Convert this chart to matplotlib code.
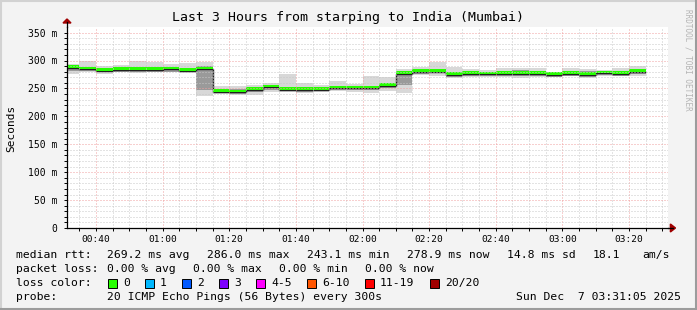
import matplotlib
matplotlib.use("Agg")
import matplotlib.pyplot as plt
from matplotlib.lines import Line2D
from matplotlib.patches import Polygon, Rectangle
import numpy as np

plt.rcParams['font.family'] = ['DejaVu Sans Mono']

# one value per 5 minute step, first step starts at 00:30
step_start = 30
step_minutes = 5
median = np.array([287, 284, 281, 283, 283, 283, 284, 282, 284, 244,
                   243, 247, 252, 248, 247, 248, 250, 250, 250, 254,
                   276, 279, 280, 274, 276, 275, 276, 276, 276, 274,
                   276, 274, 277, 276, 279])
smoke_hi = np.array([294, 300, 291, 292, 300, 297, 293, 295, 298, 254,
                     254, 256, 260, 276, 260, 257, 263, 258, 272, 270,
                     284, 289, 297, 288, 285, 283, 287, 286, 286, 280,
                     287, 284, 283, 286, 290])
smoke_lo = np.array([275, 279, 276, 279, 278, 279, 279, 277, 236, 240,
                     238, 239, 243, 243, 241, 243, 245, 244, 242, 246,
                     242, 274, 272, 268, 270, 270, 270, 269, 270, 270,
                     272, 269, 272, 272, 273])
core_lo = np.array([281, 281, 279, 280, 280, 280, 280, 279, 248, 242,
                    240, 243, 248, 245, 244, 245, 247, 247, 247, 250,
                    256, 276, 277, 271, 273, 272, 273, 272, 273, 271,
                    273, 271, 274, 273, 275])
core_hi = np.array([290, 289, 286, 289, 289, 288, 289, 287, 291, 248,
                    249, 252, 255, 252, 251, 251, 253, 253, 254, 258,
                    281, 282, 283, 279, 281, 279, 282, 283, 282, 278,
                    282, 281, 280, 281, 283])

time_ticks = [40, 60, 80, 100, 120, 140, 160, 180, 200]
time_labels = ["00:40", "01:00", "01:20", "01:40", "02:00",
               "02:20", "02:40", "03:00", "03:20"]
y_ticks = [0, 50, 100, 150, 200, 250, 300, 350]
y_labels = ["0", "50 m", "100 m", "150 m", "200 m", "250 m", "300 m", "350 m"]

loss_names = ["0", "1", "2", "3", "4-5", "6-10", "11-19", "20/20"]
loss_colors = ["#26ff00", "#00b8ff", "#0059ff", "#7e00ff",
               "#ff00ff", "#ff5500", "#ff0000", "#a10000"]
loss_box_x = [108, 145, 182, 219, 256, 307, 365, 430]

W, H = 697, 310
fig = plt.figure(figsize=(W / 100, H / 100), dpi=100, facecolor="#f3f3f3")
ax = fig.add_axes([67 / W, 1 - 228 / H, 601 / W, 201 / H])
ax.set_facecolor("white")
ax.set_xlim(31.3, 211.7)
ax.set_ylim(0, 360)

edges = step_start + step_minutes * np.arange(len(median) + 1)

# smoke
ax.stairs(smoke_hi, edges, baseline=smoke_lo, fill=True, color="#d8d8d8", lw=0)
ax.stairs(core_hi, edges, baseline=core_lo, fill=True, color="#9a9a9a", lw=0)
ax.stairs(median, edges, baseline=None, color="#202020", lw=1.0)
ax.stairs(median + 5, edges, baseline=median, fill=True, color=loss_colors[0], lw=0)

# grid
ax.set_xticks(time_ticks)
ax.set_xticklabels(time_labels, fontsize=6.8)
ax.set_xticks(np.arange(35, 211, 5), minor=True)
ax.set_yticks(y_ticks)
ax.set_yticklabels(y_labels, fontsize=7)
ax.set_yticks(np.arange(0, 360, 10), minor=True)
ax.grid(which="minor", color="#c8c8c8", lw=0.72, linestyle=(0, (1, 2)))
ax.grid(which="major", color="#f0a0a0", lw=0.72, linestyle=(0, (1, 2)))
ax.tick_params(which="both", direction="out", length=2, width=0.7, pad=3)
ax.tick_params(axis="y", which="major", pad=5)
for s in ["top", "right"]:
    ax.spines[s].set_visible(False)
for s in ["left", "bottom"]:
    ax.spines[s].set_linewidth(0.9)

# axis arrows
ax.add_line(Line2D([0, 0], [1, 1.025], transform=ax.transAxes, color="k", lw=0.9, clip_on=False))
ax.add_line(Line2D([1, 1.008], [0, 0], transform=ax.transAxes, color="k", lw=0.9, clip_on=False))
ax.add_patch(Polygon([[-4 / 601, 1.02], [4 / 601, 1.02], [0, 1.04]], closed=True,
                     transform=ax.transAxes, color="#a00000", clip_on=False))
ax.add_patch(Polygon([[1.004, 4 / 201], [1.004, -4 / 201], [1.0125, 0]], closed=True,
                     transform=ax.transAxes, color="#a00000", clip_on=False))


def fx(px):
    return px / W


def fy(py):
    return 1 - py / H


fig.text(fx(348), fy(18), "Last 3 Hours from starping to India (Mumbai)",
         ha="center", va="center", fontsize=9.5)
fig.text(fx(11), fy(128), "Seconds", rotation=90, ha="center", va="center", fontsize=8)
fig.text(fx(688), fy(60), "RRDTOOL / TOBI OETIKER", rotation=270, ha="center",
         va="center", fontsize=5.5, color="#b4b4b4")

fs = 8.2
rows = [
    (255, [(16, "median rtt:"), (107, "269.2 ms avg"), (207, "286.0 ms max"),
           (307, "243.1 ms min"), (407, "278.9 ms now"), (507, "14.8 ms sd"),
           (593, "18.1"), (642, "am/s")]),
    (269, [(16, "packet loss:"), (107, "0.00 % avg"), (193, "0.00 % max"),
           (279, "0.00 % min"), (365, "0.00 % now")]),
    (283, [(16, "loss color:")]),
    (297, [(16, "probe:"), (107, "20 ICMP Echo Pings (56 Bytes) every 300s")]),
]
for y, items in rows:
    for x, t in items:
        fig.text(fx(x), fy(y), t, ha="left", va="center", fontsize=fs)
fig.text(fx(681), fy(297), "Sun Dec  7 03:31:05 2025", ha="right", va="center", fontsize=fs)

for bx, name, col in zip(loss_box_x, loss_names, loss_colors):
    fig.add_artist(Rectangle((fx(bx), fy(287.5)), 8.5 / W, 9 / H, transform=fig.transFigure,
                             facecolor=col, edgecolor="black", lw=0.7))
    fig.text(fx(bx + 15), fy(283), name, ha="left", va="center", fontsize=fs)

# frame
fig.add_artist(Line2D([0, 1], [1 - 1 / H, 1 - 1 / H], transform=fig.transFigure, color="#d2d2d2", lw=1.5))
fig.add_artist(Line2D([1 / W, 1 / W], [0, 1], transform=fig.transFigure, color="#d2d2d2", lw=1.5))
fig.add_artist(Line2D([0, 1], [1 / H, 1 / H], transform=fig.transFigure, color="#9c9c9c", lw=1.5))
fig.add_artist(Line2D([1 - 1 / W, 1 - 1 / W], [0, 1], transform=fig.transFigure, color="#9c9c9c", lw=1.5))

fig.savefig("out.png", dpi=100, facecolor=fig.get_facecolor())
